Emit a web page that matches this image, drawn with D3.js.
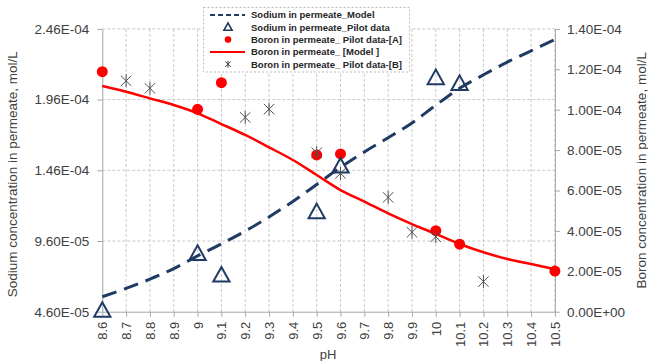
<!DOCTYPE html>
<html>
<head>
<meta charset="utf-8">
<script src="https://cdn.jsdelivr.net/npm/d3@7"></script>
<style>
  html, body { margin: 0; padding: 0; background: #fff; }
  svg { display: block; font-family: "Liberation Sans", Arial, sans-serif; }
</style>
</head>
<body>
<svg id="chart" width="648" height="361"></svg>
<script>
// pH values along the x axis
const phTicks = [8.6, 8.7, 8.8, 8.9, 9.0, 9.1, 9.2, 9.3, 9.4, 9.5, 9.6, 9.7, 9.8, 9.9, 10.0, 10.1, 10.2, 10.3, 10.4, 10.5];
const phTickLabels = ["8.6","8.7","8.8","8.9","9","9.1","9.2","9.3","9.4","9.5","9.6","9.7","9.8","9.9","10","10.1","10.2","10.3","10.4","10.5"];

// Sodium model (left axis, mol/L), one value per pH tick
const sodiumModel = [5.66e-5, 6.25e-5, 6.9e-5, 7.65e-5, 8.55e-5, 9.4e-5, 1.03e-4, 1.13e-4, 1.24e-4, 1.36e-4,
                     1.48e-4, 1.59e-4, 1.69e-4, 1.795e-4, 1.92e-4, 2.04e-4, 2.135e-4, 2.225e-4, 2.305e-4, 2.385e-4];

// Sodium pilot data (left axis)
const sodiumPilotPH = [8.6, 9.0, 9.1, 9.5, 9.6, 10.0, 10.1];
const sodiumPilot   = [4.65e-5, 8.68e-5, 7.15e-5, 1.163e-4, 1.486e-4, 2.111e-4, 2.07e-4];

// Boron pilot data, set A (right axis)
const boronAPH = [8.6, 9.0, 9.1, 9.5, 9.6, 10.0, 10.1, 10.5];
const boronA   = [1.188e-4, 1.002e-4, 1.134e-4, 7.76e-5, 7.81e-5, 4.01e-5, 3.34e-5, 2.01e-5];

// Boron model (right axis), one value per pH tick
const boronModel = [1.117e-4, 1.089e-4, 1.056e-4, 1.023e-4, 9.82e-5, 9.29e-5, 8.75e-5, 8.14e-5, 7.51e-5, 6.77e-5,
                    6.02e-5, 5.45e-5, 4.87e-5, 4.34e-5, 3.85e-5, 3.35e-5, 2.94e-5, 2.61e-5, 2.36e-5, 2.10e-5];

// Boron pilot data, set B (right axis)
const boronBPH = [8.7, 8.8, 9.2, 9.3, 9.5, 9.6, 9.8, 9.9, 10.0, 10.2];
const boronB   = [1.143e-4, 1.106e-4, 9.62e-5, 1.003e-4, 7.87e-5, 6.85e-5, 5.66e-5, 3.93e-5, 3.71e-5, 1.49e-5];

// Axis tick values
const leftTicks  = [4.6e-5, 9.6e-5, 1.46e-4, 1.96e-4, 2.46e-4];
const leftTickLabels = ["4.60E-05", "9.60E-05", "1.46E-04", "1.96E-04", "2.46E-04"];
const rightTicks = [0, 2e-5, 4e-5, 6e-5, 8e-5, 1e-4, 1.2e-4, 1.4e-4];
const rightTickLabels = ["0.00E+00", "2.00E-05", "4.00E-05", "6.00E-05", "8.00E-05", "1.00E-04", "1.20E-04", "1.40E-04"];

const legendItems = [
  { label: "Sodium in permeate_Model", kind: "dash" },
  { label: "Sodium in permeate_Pilot data", kind: "tri" },
  { label: "Boron in permeate_ Pilot data-[A]", kind: "dot" },
  { label: "Boron in permeate_ [Model ]", kind: "line" },
  { label: "Boron in permeate_ Pilot data-[B]", kind: "star" }
];

const NAVY = "#1f3b63";
const RED = "#ff0000";
const GRID = "#c8c8c8";
const AXIS = "#a6a6a6";
const TEXT = "#404040";

const plot = { left: 102.3, right: 554.9, top: 28.9, bottom: 311.7 };

const svg = d3.select("#chart");

const x = d3.scaleLinear().domain([8.6, 10.5]).range([plot.left, plot.right]);
const yL = d3.scaleLinear().domain([4.6e-5, 2.46e-4]).range([plot.bottom, plot.top]);
const yR = d3.scaleLinear().domain([0, 1.4e-4]).range([plot.bottom, plot.top]);

// Grid
const grid = svg.append("g");
grid.selectAll("line.v").data(phTicks.slice(1)).join("line")
  .attr("x1", d => x(d)).attr("x2", d => x(d))
  .attr("y1", plot.top).attr("y2", plot.bottom)
  .attr("stroke", GRID).attr("stroke-width", 1).attr("stroke-dasharray", "3,2");
grid.selectAll("line.h").data(leftTicks.slice(1)).join("line")
  .attr("x1", plot.left).attr("x2", plot.right)
  .attr("y1", d => yL(d)).attr("y2", d => yL(d))
  .attr("stroke", GRID).attr("stroke-width", 1).attr("stroke-dasharray", "3,2");

// Axes
const fmtIdx = (arr, labels) => (d) => labels[arr.indexOf(d)];

const xAxis = svg.append("g").attr("transform", `translate(0,${plot.bottom})`)
  .call(d3.axisBottom(x).tickValues(phTicks).tickFormat(fmtIdx(phTicks, phTickLabels)).tickSize(5).tickSizeOuter(0));
xAxis.selectAll("text")
  .attr("transform", "rotate(-90)")
  .attr("text-anchor", "end")
  .attr("dy", "0.35em")
  .attr("x", -10)
  .attr("y", 0);

const leftAxis = svg.append("g").attr("transform", `translate(${plot.left},0)`)
  .call(d3.axisLeft(yL).tickValues(leftTicks).tickFormat(fmtIdx(leftTicks, leftTickLabels)).tickSize(5).tickSizeOuter(0));
leftAxis.selectAll("text").attr("x", -13);

const rightAxis = svg.append("g").attr("transform", `translate(${plot.right},0)`)
  .call(d3.axisRight(yR).tickValues(rightTicks).tickFormat(fmtIdx(rightTicks, rightTickLabels)).tickSize(5).tickSizeOuter(0));
rightAxis.selectAll("text").attr("x", 12);

[xAxis, leftAxis, rightAxis].forEach(g => {
  g.select(".domain").attr("stroke", AXIS).attr("stroke-width", 1);
  g.selectAll(".tick line").attr("stroke", AXIS);
  g.selectAll("text").attr("fill", TEXT).style("font-size", "13px");
});
leftAxis.selectAll("text").style("font-size", "13.5px");
rightAxis.selectAll("text").style("font-size", "13.5px");

// Axis titles
svg.append("text")
  .attr("transform", `translate(17,${(plot.top + plot.bottom) / 2 + 4}) rotate(-90)`)
  .attr("text-anchor", "middle").attr("fill", TEXT).style("font-size", "13.5px")
  .text("Sodium concentration in permeate,  mol/L");
svg.append("text")
  .attr("transform", `translate(646,${(plot.top + plot.bottom) / 2}) rotate(-90)`)
  .attr("text-anchor", "middle").attr("fill", TEXT).style("font-size", "13.5px")
  .text("Boron concentration in permeate, mol/L");
svg.append("text")
  .attr("x", 328).attr("y", 359)
  .attr("text-anchor", "middle").attr("fill", TEXT).style("font-size", "13px")
  .text("pH");

// Sodium model (dashed)
svg.append("path")
  .datum(phTicks.map((p, i) => [p, sodiumModel[i]]))
  .attr("fill", "none").attr("stroke", NAVY).attr("stroke-width", 3)
  .attr("stroke-dasharray", "15,8")
  .attr("d", d3.line().x(d => x(d[0])).y(d => yL(d[1])).curve(d3.curveMonotoneX));

// Boron model (solid red)
svg.append("path")
  .datum(phTicks.map((p, i) => [p, boronModel[i]]))
  .attr("fill", "none").attr("stroke", RED).attr("stroke-width", 2.5)
  .attr("d", d3.line().x(d => x(d[0])).y(d => yR(d[1])).curve(d3.curveMonotoneX));

// Marker shapes
const triPath = (s) => `M0,${-s*0.62}L${s*0.58},${s*0.42}L${-s*0.58},${s*0.42}Z`;
const starPath = (s) => {
  const h = s / 2, d = h * 0.8;
  return `M0,${-h}L0,${h}M${-d},${-d}L${d},${d}M${-d},${d}L${d},${-d}`;
};

// Boron pilot A (red dots)
svg.append("g").selectAll("circle").data(boronAPH.map((p, i) => [p, boronA[i]])).join("circle")
  .attr("cx", d => x(d[0])).attr("cy", d => yR(d[1])).attr("r", 5.5).attr("fill", RED);

// Boron pilot B (asterisks)
svg.append("g").selectAll("path").data(boronBPH.map((p, i) => [p, boronB[i]])).join("path")
  .attr("transform", d => `translate(${x(d[0])},${yR(d[1])})`)
  .attr("d", starPath(13)).attr("stroke", "#505050").attr("stroke-width", 1).attr("fill", "none");

// Sodium pilot (open triangles)
svg.append("g").selectAll("path").data(sodiumPilotPH.map((p, i) => [p, sodiumPilot[i]])).join("path")
  .attr("transform", d => `translate(${x(d[0])},${yL(d[1])})`)
  .attr("d", triPath(14)).attr("stroke", NAVY).attr("stroke-width", 2).attr("fill", "none");

// Legend
const lg = svg.append("g");
lg.append("rect").attr("x", 203.5).attr("y", 7.5).attr("width", 206).attr("height", 64.5)
  .attr("fill", "#fff").attr("stroke", "#bdbdbd").attr("stroke-dasharray", "2,2");
const rowY = (i) => 15 + i * 12.3;
legendItems.forEach((it, i) => {
  const g = lg.append("g").attr("transform", `translate(0,${rowY(i)})`);
  if (it.kind === "dash") {
    g.append("line").attr("x1", 210).attr("x2", 245).attr("y1", 0).attr("y2", 0)
      .attr("stroke", NAVY).attr("stroke-width", 2).attr("stroke-dasharray", "5,3");
  } else if (it.kind === "line") {
    g.append("line").attr("x1", 210).attr("x2", 245).attr("y1", 0).attr("y2", 0)
      .attr("stroke", RED).attr("stroke-width", 2);
  } else if (it.kind === "tri") {
    g.append("path").attr("transform", "translate(228,0)").attr("d", triPath(7))
      .attr("stroke", NAVY).attr("stroke-width", 1.6).attr("fill", "none");
  } else if (it.kind === "dot") {
    g.append("circle").attr("cx", 228).attr("cy", 0).attr("r", 3.3).attr("fill", RED);
  } else if (it.kind === "star") {
    g.append("path").attr("transform", "translate(228,0)").attr("d", starPath(7))
      .attr("stroke", "#404040").attr("stroke-width", 1).attr("fill", "none");
  }
  g.append("text").attr("x", 251).attr("y", 0).attr("dy", "0.35em")
    .attr("fill", "#262626").style("font-size", "9.5px").style("font-weight", "bold")
    .text(it.label);
});
</script>
</body>
</html>
